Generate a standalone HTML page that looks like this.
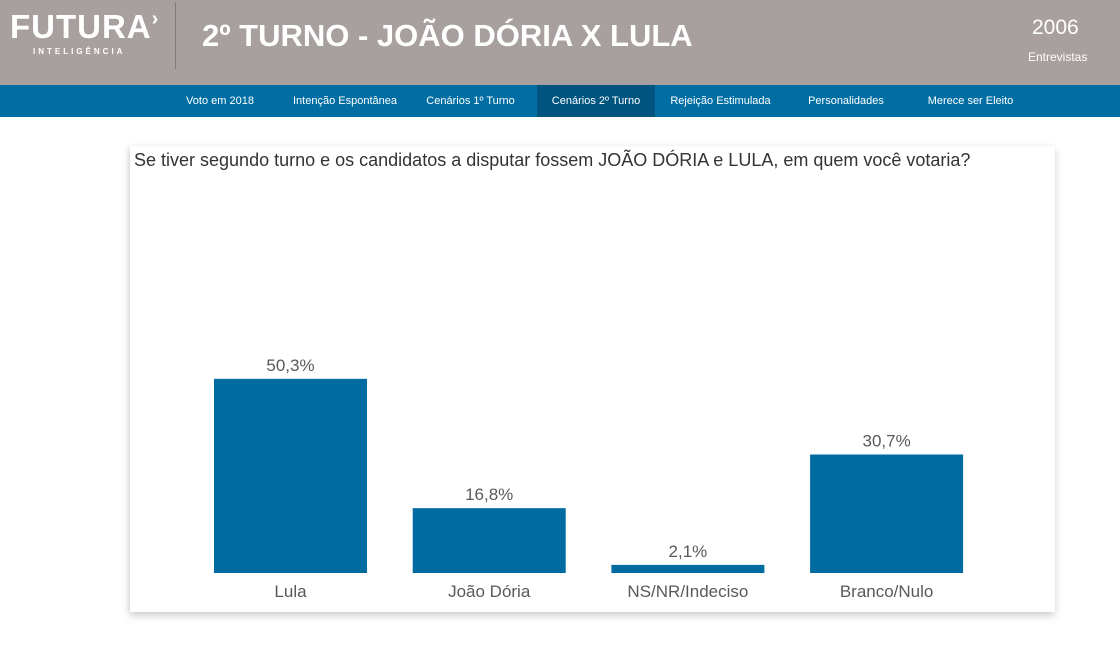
<!DOCTYPE html>
<html><head><meta charset="utf-8"><style>
body{margin:0;width:1120px;height:655px;background:#fff;font-family:"Liberation Sans",sans-serif;position:relative;overflow:hidden}
#hdr{position:absolute;left:0;top:0;width:1120px;height:85px;background:#a8a09e;color:#fff}
#nav{position:absolute;left:0;top:85px;width:1120px;height:32px;background:#006ea3}
.ni{position:absolute;top:0;height:32px;line-height:32px;font-size:11px;color:#fff;text-align:center}
#card{position:absolute;left:130px;top:146px;width:925px;height:466px;background:#fff;box-shadow:0 4px 8px rgba(0,0,0,.18),-2px 0 4px rgba(0,0,0,.06)}
</style></head><body>
<div id="hdr">
 <div style="position:absolute;left:10px;top:8px;font-size:33px;font-weight:bold;letter-spacing:1px">FUTURA<span style="font-size:20px;vertical-align:top">›</span></div>
 <div style="position:absolute;left:33px;top:47px;font-size:8px;font-weight:bold;letter-spacing:3px">INTELIGÊNCIA</div>
 <div style="position:absolute;left:175px;top:2px;width:1px;height:67px;background:#807a78"></div>
 <div style="position:absolute;left:202px;top:18px;font-size:31px;font-weight:bold">2º TURNO - JOÃO DÓRIA X LULA</div>
 <div style="position:absolute;left:1032px;top:16px;font-size:21px">2006</div>
 <div style="position:absolute;left:1028px;top:50px;font-size:12px">Entrevistas</div>
</div>
<div id="nav">
 <div class="ni" style="left:175px;width:90px">Voto em 2018</div>
 <div class="ni" style="left:285px;width:120px">Intenção Espontânea</div>
 <div class="ni" style="left:418px;width:105px">Cenários 1º Turno</div>
 <div class="ni" style="left:537px;width:118px;background:#005480">Cenários 2º Turno</div>
 <div class="ni" style="left:663px;width:115px">Rejeição Estimulada</div>
 <div class="ni" style="left:795px;width:102px">Personalidades</div>
 <div class="ni" style="left:918px;width:105px">Merece ser Eleito</div>
</div>
<div id="card"></div>
<div style="position:absolute;left:134px;top:150px;font-size:18px;color:#333">Se tiver segundo turno e os candidatos a disputar fossem JOÃO DÓRIA e LULA, em quem você votaria?</div>
<svg id="chart" width="1120" height="655" style="position:absolute;left:0;top:0"></svg>
<script>
const categories=["Lula","João Dória","NS/NR/Indeciso","Branco/Nulo"];
const values=[50.3,16.8,2.1,30.7];
const valueLabels=["50,3%","16,8%","2,1%","30,7%"];
const svg=document.getElementById('chart');
const NS='http://www.w3.org/2000/svg';
const baseY=573, pxPer=3.86, x0=214, step=198.7, bw=153;
function yScale(v){return baseY-v*pxPer;}
function xScale(i){return x0+i*step;}
values.forEach((v,i)=>{
 const r=document.createElementNS(NS,'rect');
 
 
 r.setAttribute('x',xScale(i));r.setAttribute('y',yScale(v));
 r.setAttribute('width',bw);r.setAttribute('height',baseY-yScale(v));
 r.setAttribute('fill','#006ba0');svg.appendChild(r);
 const t=document.createElementNS(NS,'text');
 
 
 t.setAttribute('x',xScale(i)+bw/2);t.setAttribute('y',yScale(v)-8);
 t.setAttribute('text-anchor','middle');t.setAttribute('font-size','17');t.setAttribute('fill','#595959');
 t.setAttribute('font-family','Liberation Sans, sans-serif');
 t.textContent=valueLabels[i];svg.appendChild(t);
 const c=document.createElementNS(NS,'text');
 
 
 c.setAttribute('x',xScale(i)+bw/2);c.setAttribute('y',baseY+24);
 c.setAttribute('text-anchor','middle');c.setAttribute('font-size','17');c.setAttribute('fill','#595959');
 c.setAttribute('font-family','Liberation Sans, sans-serif');
 c.textContent=categories[i];svg.appendChild(c);
});
</script>
</body></html>
